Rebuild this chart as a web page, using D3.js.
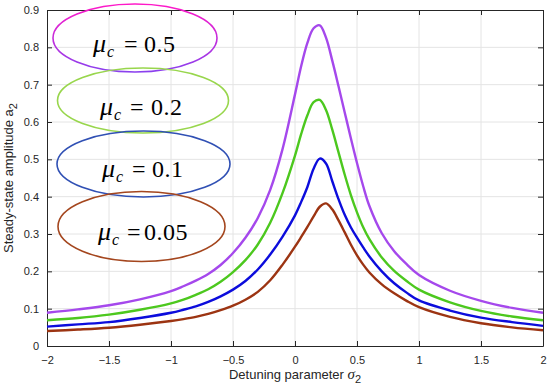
<!DOCTYPE html>
<html>
<head>
<meta charset="utf-8">
<script src="https://cdn.jsdelivr.net/npm/d3@7"></script>
<style>
  body { margin: 0; background: #fff; }
  .tick text { font-family: "Liberation Sans", Arial, sans-serif; font-size: 11px; fill: #262626; }
  .lbl { font-family: "Liberation Sans", Arial, sans-serif; font-size: 13px; fill: #262626; }
</style>
</head>
<body>
<div class="chart"></div>
<script>
// detuning values sampled along each curve
var sigma  = [-2, -1.75, -1.5, -1.25, -1, -0.9, -0.8, -0.7, -0.6, -0.5, -0.4, -0.3, -0.2, -0.1, 0, 0.05, 0.1, 0.15, 0.2, 0.25, 0.3, 0.35, 0.4, 0.45, 0.5, 0.55, 0.6, 0.7, 0.8, 0.9, 1, 1.25, 1.5, 1.75, 2];
var amp05  = [0.089, 0.098, 0.109, 0.125, 0.147, 0.16, 0.175, 0.193, 0.217, 0.249, 0.29, 0.343, 0.418, 0.528, 0.674, 0.75, 0.812, 0.851, 0.859, 0.826, 0.765, 0.697, 0.627, 0.557, 0.49, 0.428, 0.375, 0.302, 0.254, 0.219, 0.19, 0.148, 0.121, 0.102, 0.089];
var amp02  = [0.069, 0.075, 0.084, 0.097, 0.114, 0.124, 0.137, 0.152, 0.172, 0.198, 0.23, 0.272, 0.33, 0.41, 0.51, 0.568, 0.618, 0.653, 0.659, 0.632, 0.58, 0.52, 0.46, 0.405, 0.358, 0.318, 0.286, 0.237, 0.201, 0.174, 0.151, 0.117, 0.094, 0.079, 0.069];
var amp01  = [0.052, 0.058, 0.064, 0.075, 0.089, 0.097, 0.106, 0.118, 0.133, 0.151, 0.174, 0.205, 0.245, 0.293, 0.35, 0.386, 0.426, 0.475, 0.502, 0.489, 0.442, 0.394, 0.352, 0.318, 0.29, 0.264, 0.24, 0.2, 0.168, 0.143, 0.122, 0.095, 0.076, 0.064, 0.054];
var amp005 = [0.040, 0.044, 0.049, 0.057, 0.067, 0.072, 0.078, 0.086, 0.096, 0.108, 0.124, 0.145, 0.176, 0.218, 0.266, 0.292, 0.319, 0.347, 0.373, 0.382, 0.366, 0.337, 0.305, 0.272, 0.243, 0.218, 0.197, 0.165, 0.141, 0.121, 0.104, 0.078, 0.061, 0.05, 0.042];

var seriesNames = ["0.5", "0.2", "0.1", "0.05"];
var seriesColors = ["#a548ec", "#4cc81e", "#0c0cdc", "#9c3412"];
var ringColors = ["url(#ringGrad)", "#98d64c", "#3050b4", "#a4461e"];

var xTicks = [-2, -1.5, -1, -0.5, 0, 0.5, 1, 1.5, 2];
var yTicks = [0, 0.1, 0.2, 0.3, 0.4, 0.5, 0.6, 0.7, 0.8, 0.9];

var W = 550, H = 388;
var margin = {top: 10, right: 7, bottom: 42, left: 47};
var width = W - margin.left - margin.right,
    height = H - margin.top - margin.bottom;

var svg = d3.select(".chart").append("svg")
  .attr("width", W)
  .attr("height", H);

var grad = svg.append("defs").append("linearGradient")
  .attr("id", "ringGrad").attr("x1", 0).attr("y1", 0).attr("x2", 0).attr("y2", 1);
grad.append("stop").attr("offset", "0%").attr("stop-color", "#ff18c8");
grad.append("stop").attr("offset", "100%").attr("stop-color", "#8a40ee");

var g = svg.append("g")
  .attr("transform", "translate(" + margin.left + "," + margin.top + ")");

var x = d3.scaleLinear().domain([-2, 2]).range([0, width]),
    y = d3.scaleLinear().domain([0, 0.9]).range([height, 0]);

// grid
g.append("g").selectAll("line").data(xTicks.slice(1, -1)).enter().append("line")
  .attr("x1", function(d){ return x(d); }).attr("x2", function(d){ return x(d); })
  .attr("y1", 0).attr("y2", height)
  .attr("stroke", "#e4e4e4").attr("stroke-width", 1);
g.append("g").selectAll("line").data(yTicks.slice(1, -1)).enter().append("line")
  .attr("y1", function(d){ return y(d); }).attr("y2", function(d){ return y(d); })
  .attr("x1", 0).attr("x2", width)
  .attr("stroke", "#e4e4e4").attr("stroke-width", 1);

// axes, ticks pointing inward like matlab
function styleAxis(sel) {
  sel.select(".domain").attr("stroke", "#262626");
  sel.selectAll(".tick line").attr("stroke", "#262626");
}
g.append("g").attr("transform", "translate(0," + height + ")")
  .call(d3.axisBottom(x).tickValues(xTicks).tickSizeInner(-5).tickSizeOuter(0).tickPadding(10).tickFormat(d3.format("")))
  .call(styleAxis);
g.append("g")
  .call(d3.axisTop(x).tickValues(xTicks).tickSizeInner(-5).tickSizeOuter(0).tickFormat(""))
  .call(styleAxis);
g.append("g")
  .call(d3.axisLeft(y).tickValues(yTicks).tickSizeInner(-5).tickSizeOuter(0).tickPadding(8).tickFormat(d3.format("")))
  .call(styleAxis);
g.append("g").attr("transform", "translate(" + width + ",0)")
  .call(d3.axisRight(y).tickValues(yTicks).tickSizeInner(-5).tickSizeOuter(0).tickFormat(""))
  .call(styleAxis);

// curves
var allSeries = [amp05, amp02, amp01, amp005];
var line = d3.line()
  .x(function(d){ return x(d[0]); })
  .y(function(d){ return y(d[1]); })
  .curve(d3.curveCatmullRom.alpha(0.5));

allSeries.forEach(function(vals, i) {
  g.append("path")
    .datum(sigma.map(function(s, j){ return [s, vals[j]]; }))
    .attr("fill", "none")
    .attr("stroke", seriesColors[i])
    .attr("stroke-width", 2.4)
    .attr("stroke-linejoin", "round")
    .attr("d", line);
});

// annotation ellipses with labels
var rings = [
  {cx: 135, cy: 38, rx: 82, ry: 34, tx: 93, ty: 52, eq: 31, num: 51},
  {cx: 143, cy: 100.5, rx: 85.5, ry: 32.5, tx: 100, ty: 115, eq: 30, num: 51},
  {cx: 143.5, cy: 164, rx: 86.5, ry: 33, tx: 102, ty: 177, eq: 30, num: 50},
  {cx: 141.5, cy: 226.5, rx: 83.5, ry: 35, tx: 98, ty: 240, eq: 29, num: 46}
];
var serif = "Liberation Serif";
rings.forEach(function(r, i) {
  svg.append("ellipse")
    .attr("cx", r.cx).attr("cy", r.cy).attr("rx", r.rx).attr("ry", r.ry)
    .attr("fill", "none").attr("stroke", ringColors[i]).attr("stroke-width", 1.6);
  var t = svg.append("g").attr("font-family", serif).attr("font-size", 24).attr("fill", "#000");
  t.append("text").attr("x", r.tx).attr("y", r.ty).attr("font-style", "italic").attr("font-size", 26).text("\u03bc");
  t.append("text").attr("x", r.tx + 14).attr("y", r.ty + 5).attr("font-style", "italic").attr("font-size", 16).text("c");
  t.append("text").attr("x", r.tx + r.eq).attr("y", r.ty).text("=");
  t.append("text").attr("x", r.tx + r.num).attr("y", r.ty).attr("letter-spacing", 0.5).text(seriesNames[i]);
});

// axis labels
var xl = svg.append("text").attr("class", "lbl")
  .attr("x", margin.left + x(0)).attr("y", 379).attr("text-anchor", "middle");
xl.append("tspan").text("Detuning parameter ");
xl.append("tspan").attr("font-family", serif).attr("font-style", "italic").attr("font-size", 15).text("\u03c3");
xl.append("tspan").attr("dy", 4).attr("font-size", 11).text("2");

var yl = svg.append("text").attr("class", "lbl")
  .attr("transform", "translate(13," + (margin.top + height / 2) + ") rotate(-90)")
  .attr("text-anchor", "middle");
yl.append("tspan").text("Steady-state amplitude a");
yl.append("tspan").attr("dy", 4).attr("font-size", 11).text("2");
</script>
</body>
</html>
